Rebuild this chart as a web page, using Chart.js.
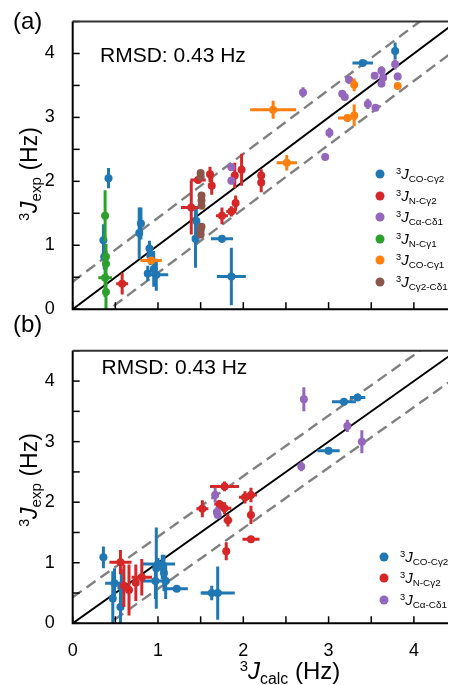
<!DOCTYPE html>
<html><head><meta charset="utf-8">
<script src="https://cdn.jsdelivr.net/npm/chart.js@4.4.1/dist/chart.umd.min.js"></script>
<style>
html,body{margin:0;padding:0;background:#fff;}
#wrap{position:relative;width:452px;height:685px;overflow:hidden;font-family:"Liberation Sans",Arial,sans-serif;color:#000;}
canvas{position:absolute;left:0;}
.t{position:absolute;white-space:nowrap;line-height:1;}
.sup{font-size:0.62em;vertical-align:0.55em;}
.sub{font-size:0.66em;vertical-align:-0.3em;}
.lg{position:absolute;white-space:nowrap;line-height:1;font-size:15px;transform:translateY(-50%);}
.dot{position:absolute;width:9px;height:9px;border-radius:50%;transform:translate(-50%,-50%);}
</style></head>
<body><div id="wrap">
<canvas id="ca" width="452" height="330" style="top:0"></canvas>
<canvas id="cb" width="452" height="355" style="top:330px"></canvas>
</div>
<script>
// ---------- data: [x = 3J calc, y = 3J exp, x error, y error] ----------
const seriesNames = ['CO-Cγ2','N-Cγ2','Cα-Cδ1','N-Cγ1','CO-Cγ1','Cγ2-Cδ1'];
// panel (a)
const aCOCg2 = [[0.42,2.05,0,0.16],[0.36,1.08,0,0.25],[0.37,0.82,0,0.2],[0.80,1.34,0,0.25],[0.78,1.19,0,0.4],
  [0.90,0.95,0,0.12],[0.91,0.84,0,0.15],[0.88,0.56,0,0.12],[0.95,0.63,0,0.28],[0.98,0.54,0.14,0.25],
  [1.45,1.38,0,0.2],[1.44,1.10,0,0.45],[1.75,1.10,0.13,0.06],[1.86,0.51,0.17,0.45],[3.40,3.85,0.12,0.03],[3.78,4.04,0,0.13]];
const aNCg2 = [[0.58,0.40,0.07,0.17],[1.39,1.59,0.12,0.42],[1.47,2.02,0.09,0.05],[1.61,2.11,0,0.12],[1.63,1.93,0,0.14],
  [1.75,1.46,0.07,0.13],[1.86,1.53,0.06,0.08],[1.91,1.66,0,0.12],[1.90,2.09,0,0.2],[1.98,2.18,0,0.25],
  [2.21,2.09,0,0.1],[2.21,1.98,0,0.15]];
const aCaCd1 = [[1.86,2.22,0,0.06],[1.86,2.01,0,0.06],[2.70,3.39,0,0.08],[2.96,2.38,0,0.04],[3.01,2.76,0,0.08],
  [3.16,3.37,0,0.05],[3.19,3.32,0,0.05],[3.24,3.59,0,0.06],[3.46,3.21,0,0.08],[3.55,3.15,0,0.04],
  [3.54,3.65,0,0.05],[3.62,3.73,0,0.07],[3.64,3.62,0,0.05],[3.62,3.53,0,0.06],[3.78,3.83,0,0.08],[3.81,3.64,0,0.06]];
const aNCg1 = [[0.38,1.46,0,0.40],[0.39,0.82,0,0.2],[0.39,0.71,0,0.2],[0.38,0.49,0.08,0.3],[0.39,0.27,0,0.3]];
const aCOCg1 = [[0.92,0.76,0.125,0.05],[2.35,3.12,0.27,0.14],[2.51,2.29,0.12,0.12],[3.30,3.51,0,0.1],
  [3.22,2.99,0.11,0.05],[3.30,3.03,0,0.17],[3.81,3.49,0,0.03]];
const aCg2Cd1 = [[1.50,2.13,0,0.04],[1.50,2.07,0,0.04],[1.51,1.78,0,0.05],[1.51,1.70,0,0.05],[1.51,1.62,0,0.05],
  [1.51,1.29,0,0.05],[1.50,1.23,0,0.05],[1.50,1.17,0,0.05]];
// panel (b)
const bCOCg2 = [[0.36,1.09,0,0.18],[0.49,0.66,0.11,0.25],[0.47,0.41,0,0.45],[0.56,0.27,0,0.4],[0.57,0.60,0,0.3],
  [0.98,0.91,0,0.67],[1.00,0.98,0.2,0.1],[1.05,0.93,0,0.2],[1.07,0.83,0,0.3],[0.97,0.70,0.17,0.3],
  [1.09,0.70,0,0.3],[1.22,0.57,0.13,0.05],[1.63,0.50,0.12,0.12],[1.70,0.50,0.2,0.44],
  [3.00,2.85,0.13,0.06],[3.18,3.66,0.14,0.05],[3.34,3.73,0.09,0.05]];
const bNCg2 = [[0.56,1.01,0.13,0.2],[0.60,0.62,0,0.35],[0.66,0.55,0,0.42],[0.74,0.67,0,0.3],[0.81,0.76,0.12,0.3],
  [1.52,1.89,0.07,0.14],[1.78,2.26,0.17,0.08],[1.72,1.97,0.06,0.06],[1.78,1.90,0.08,0.1],[1.82,1.70,0.05,0.1],
  [1.80,1.19,0.03,0.15],[2.02,2.08,0.07,0.1],[2.09,2.12,0.07,0.12],[2.09,1.79,0.03,0.15],[2.09,1.39,0.1,0.05]];
const bCaCd1 = [[1.67,2.12,0,0.12],[1.69,1.84,0,0.08],[1.70,1.79,0,0.05],[2.71,3.70,0,0.2],[2.68,2.59,0,0.08],
  [3.22,3.26,0,0.1],[3.39,3.00,0,0.19]];
const rmsd = 0.43;
const diagX = [0, 4.5];
const xTicks = [0,0.5,1,1.5,2,2.5,3,3.5,4];
const yTicks = [0,0.5,1,1.5,2,2.5,3,3.5,4,4.5];

// ---------- styles ----------
const COLORS = ['#1f77b4','#d62728','#9467bd','#2ca02c','#ff7f0e','#8c564b'];
const FONT = '"Liberation Sans", Arial, sans-serif';

const toPts = arr => arr.map(([x,y,xe,ye]) => ({x,y,xe,ye}));

const errPlugin = {
  id:'errbars',
  beforeDatasetDraw(chart, args){
    const ds = chart.data.datasets[args.index];
    if(!ds.errBars) return;
    const {ctx, chartArea:a, scales:{x,y}} = chart;
    ctx.save();
    ctx.beginPath(); ctx.rect(a.left, a.top, a.right-a.left, a.bottom-a.top); ctx.clip();
    ctx.strokeStyle = ds.backgroundColor; ctx.lineWidth = 3; ctx.lineCap = 'butt';
    ds.data.forEach(p => {
      const px = x.getPixelForValue(p.x), py = y.getPixelForValue(p.y);
      ctx.beginPath();
      if(p.xe){ ctx.moveTo(x.getPixelForValue(p.x-p.xe), py); ctx.lineTo(x.getPixelForValue(p.x+p.xe), py); }
      if(p.ye){ ctx.moveTo(px, y.getPixelForValue(p.y-p.ye)); ctx.lineTo(px, y.getPixelForValue(p.y+p.ye)); }
      ctx.stroke();
    });
    ctx.restore();
  }
};
const framePlugin = {
  id:'frame',
  afterDatasetsDraw(chart){
    const {ctx, chartArea:a, scales:{x,y}} = chart;
    ctx.save();
    ctx.strokeStyle = '#000'; ctx.lineWidth = 1.5;
    xTicks.forEach(v => { const px = x.getPixelForValue(v); ctx.beginPath(); ctx.moveTo(px, a.bottom); ctx.lineTo(px, a.bottom-7); ctx.stroke(); });
    yTicks.forEach(v => { const py = y.getPixelForValue(v); ctx.beginPath(); ctx.moveTo(a.left, py); ctx.lineTo(a.left+7, py); ctx.stroke(); });
    ctx.lineWidth = 2;
    ctx.beginPath(); ctx.moveTo(a.left, a.top); ctx.lineTo(a.left, a.bottom); ctx.lineTo(a.right, a.bottom); ctx.stroke();
    ctx.strokeStyle = '#333'; ctx.beginPath(); ctx.moveTo(a.left, a.top); ctx.lineTo(a.right, a.top); ctx.stroke();
    ctx.restore();
  }
};

function makeChart(id, groups, showX, padTop, xAxisH){
  const datasets = [
    {type:'line', data: diagX.map(v=>({x:v,y:v})), borderColor:'#000', borderWidth:2, pointRadius:0, order:100},
    {type:'line', data: diagX.map(v=>({x:v,y:v+rmsd})), borderColor:'#808080', borderWidth:2.4, borderDash:[11,6], pointRadius:0, order:100},
    {type:'line', data: diagX.map(v=>({x:v,y:v-rmsd})), borderColor:'#808080', borderWidth:2.4, borderDash:[11,6], pointRadius:0, order:100},
  ];
  groups.forEach((g,i) => datasets.push({
    type:'scatter', label: seriesNames[i], data: toPts(g), errBars:true,
    backgroundColor: COLORS[i], borderColor: COLORS[i], borderWidth:0, pointRadius:4, order: 50-i
  }));
  return new Chart(document.getElementById(id), {
    type:'scatter',
    data:{datasets},
    options:{
      responsive:false, animation:false, devicePixelRatio:1, events:[],
      layout:{padding:{top:padTop, left:0, right:0, bottom:0}},
      plugins:{legend:{display:false}, tooltip:{enabled:false}},
      scales:{
        x:{type:'linear', min:0, max:4.4, grid:{display:false}, border:{display:false},
           afterBuildTicks: s => { s.ticks = [0,1,2,3,4].map(v=>({value:v})); },
           ticks:{display:showX, autoSkip:false, maxRotation:0, padding:9, color:'#000', font:{family:FONT, size:18}},
           afterFit: s => { s.height = xAxisH; }},
        y:{type:'linear', min:0, max:4.5, grid:{display:false}, border:{display:false},
           afterBuildTicks: s => { s.ticks = [0,1,2,3,4].map(v=>({value:v})); },
           ticks:{padding:10, color:'#000', font:{family:FONT, size:18}},
           afterFit: s => { s.width = 72.7; }}
      }
    },
    plugins:[errPlugin, framePlugin]
  });
}

const chartA = makeChart('ca', [aCOCg2,aNCg2,aCaCd1,aNCg1,aCOCg1,aCg2Cd1], false, 21.5, 19);
const chartB = makeChart('cb', [bCOCg2,bNCg2,bCaCd1], true, 3.5, 61.7);

// ---------- text overlays ----------
const wrap = document.getElementById('wrap');
function addText(html, left, top, size, extra){
  const d = document.createElement('div');
  d.className = 't'; d.innerHTML = html;
  d.style.left = left+'px'; d.style.top = top+'px'; d.style.fontSize = size+'px';
  d.style.transform = extra || 'translateY(-50%)';
  wrap.appendChild(d); return d;
}
const jTitle = s => '<span class="sup">3</span><i>J</i><span class="sub">'+s+'</span> (Hz)';
addText('(a)', 13, 20.5, 24);
addText('(b)', 13, 324, 24);
addText('RMSD: '+rmsd.toFixed(2)+' Hz', 100, 53.5, 21);
addText('RMSD: '+rmsd.toFixed(2)+' Hz', 101.5, 366, 21);
addText(jTitle('exp'), 30, 174, 23, 'translate(-50%,-50%) rotate(-90deg)');
addText(jTitle('exp'), 30, 480, 23, 'translate(-50%,-50%) rotate(-90deg)');
addText(jTitle('calc'), 290, 673, 24, 'translate(-50%,-50%)');

function legend(chart, x0, y0, offTop){
  const items = chart.data.datasets.filter(d => d.errBars);
  items.forEach((d,i) => {
    const y = offTop + y0 + i*21.6;
    const dot = document.createElement('div'); dot.className='dot';
    dot.style.left = x0+'px'; dot.style.top = y+'px'; dot.style.background = d.backgroundColor;
    wrap.appendChild(dot);
    const t = document.createElement('div'); t.className='lg';
    t.innerHTML = '<span class="sup">3</span><i>J</i><span class="sub">'+d.label+'</span>';
    t.style.left = (x0+16)+'px'; t.style.top = (y+1)+'px';
    wrap.appendChild(t);
  });
}
legend(chartA, 380, 174, 0);
legend(chartB, 384, 226.7, 330);
</script>
</body></html>
